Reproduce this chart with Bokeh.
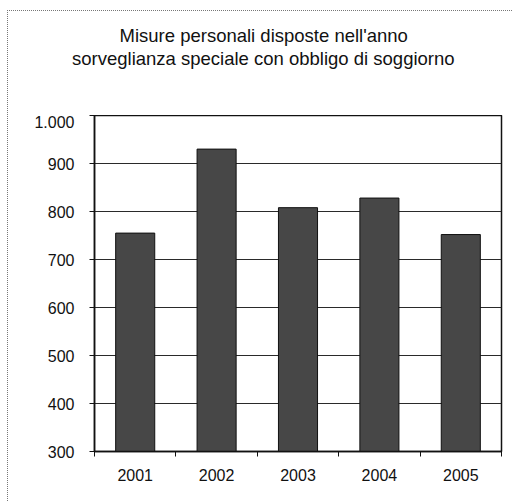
from bokeh.plotting import figure
from bokeh.layouts import column
from bokeh.models import Range1d, FixedTicker, ColumnDataSource, Title
from bokeh.embed import file_html
from bokeh.resources import INLINE

years = ["2001", "2002", "2003", "2004", "2005"]
values = [755, 930, 808, 828, 752]
title_lines = ["Misure personali disposte nell'anno",
               "sorveglianza speciale con obbligo di soggiorno"]
y_ticks = [300, 400, 500, 600, 700, 800, 900, 1000]
y_labels = ["300", "400", "500", "600", "700", "800", "900", "1.000"]

FONT = "Liberation Sans"

# ---- title strip (frame aligned with the chart frame by the column) ----
tf = figure(width=504, height=104, output_backend="svg", title=None,
            toolbar_location=None, x_axis_type=None, y_axis_type=None,
            x_range=Range1d(0, 1), y_range=Range1d(0, 1),
            min_border_left=86, min_border_right=11, min_border_top=57,
            min_border_bottom=0, outline_line_color=None)
tf.grid.visible = False
# second line first: later titles stack further from the frame
for txt, off in zip(reversed(title_lines), [-22.5, 25]):
    tf.add_layout(Title(text=txt, align="left", offset=off, standoff=0,
                        text_font=FONT, text_font_size="18.5px",
                        text_font_style="normal", text_color="#111111"), "above")

# ---- bar chart ----
xpos = [i + 0.5 for i in range(len(years))]
src = ColumnDataSource(dict(x=xpos, top=values, year=years))

p = figure(width=504, height=386, output_backend="svg", toolbar_location=None,
           x_range=Range1d(0, len(years)), y_range=Range1d(300, 1000),
           min_border_left=86, min_border_right=11, min_border_top=0,
           min_border_bottom=50)

p.vbar(x="x", top="top", bottom=300, width=0.48, source=src,
       fill_color="#474747", line_color="#111111", line_width=1)

p.outline_line_color = "#111111"
p.outline_line_width = 1.5
p.xgrid.visible = False
p.ygrid.grid_line_color = "#2a2a2a"
p.ygrid.grid_line_width = 1
p.ygrid.ticker = FixedTicker(ticks=y_ticks)

xa = p.xaxis[0]
xa.ticker = FixedTicker(ticks=xpos, minor_ticks=list(range(len(years) + 1)))
xa.major_label_overrides = {x: y for x, y in zip(xpos, years)}
xa.major_tick_out = 0
xa.major_tick_in = 0
xa.minor_tick_out = 5
xa.minor_tick_in = 0
xa.minor_tick_line_color = "#111111"
xa.axis_line_color = "#111111"
xa.axis_line_width = 1.5
xa.major_label_standoff = 12
xa.major_label_text_font = FONT
xa.major_label_text_font_size = "16px"
xa.major_label_text_color = "#111111"

ya = p.yaxis[0]
ya.ticker = FixedTicker(ticks=y_ticks)
ya.major_label_overrides = {t: l for t, l in zip(y_ticks, y_labels)}
ya.major_tick_out = 5
ya.major_tick_in = 0
ya.minor_tick_line_color = None
ya.axis_line_color = "#111111"
ya.axis_line_width = 1.5
ya.major_tick_line_color = "#111111"
ya.major_label_standoff = 15
ya.major_label_text_font = FONT
ya.major_label_text_font_size = "16px"
ya.major_label_text_color = "#111111"

layout = column(tf, p, spacing=0)
layout.styles = {"border-left": "1px dotted #777", "border-top": "1px dotted #777",
                 "margin-left": "7px", "margin-top": "10px"}

open("out.html", "w").write(file_html(layout, INLINE))
